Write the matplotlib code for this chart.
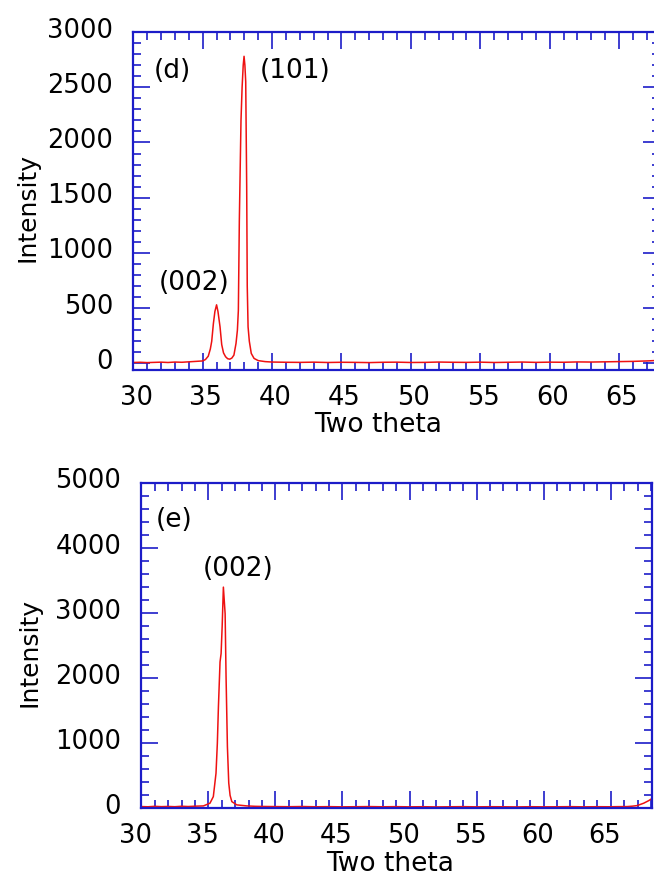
"""
XRD patterns (d) and (e): intensity vs two theta.
"""

import matplotlib
matplotlib.use("Agg")
import matplotlib.pyplot as plt
from matplotlib.ticker import MultipleLocator
from matplotlib.transforms import ScaledTranslation

# ---- panel (d) ----
d_theta = [30.0, 30.5, 31.0, 31.5, 32.0, 32.5, 33.0, 33.5, 34.0, 34.5,
           35.0, 35.2, 35.4, 35.55, 35.65, 35.77, 35.88, 36.0, 36.1, 36.25,
           36.37, 36.5, 36.65, 36.8, 36.95, 37.1, 37.25, 37.4, 37.5, 37.57,
           37.64, 37.7, 37.76, 37.84, 37.92, 37.98, 38.04, 38.1, 38.17, 38.21,
           38.27, 38.36, 38.5, 38.7, 39.0, 39.5, 40.0, 41.0, 42.0, 43.0,
           44.0, 45.0, 46.0, 47.0, 48.0, 49.0, 50.0, 51.0, 52.0, 53.0,
           54.0, 55.0, 56.0, 57.0, 58.0, 59.0, 60.0, 61.0, 62.0, 63.0,
           64.0, 65.0, 66.0, 66.5, 67.0, 67.5, 67.95]
d_counts = [8, 10, 7, 9, 11, 8, 12, 10, 14, 18,
            22, 35, 65, 130, 200, 360, 470, 530, 470, 330,
            170, 95, 60, 42, 38, 48, 75, 180, 300, 480,
            1290, 1750, 2200, 2500, 2700, 2780, 2700, 2550, 1600, 700,
            330, 200, 90, 45, 25, 16, 12, 10, 9, 11,
            8, 10, 9, 7, 10, 11, 8, 9, 12, 10,
            9, 11, 8, 10, 12, 9, 11, 10, 13, 12,
            14, 16, 18, 20, 22, 25, 28]

# ---- panel (e) ----
e_theta = [30.0, 30.5, 31.0, 31.5, 32.0, 32.5, 33.0, 33.5, 34.0, 34.63,
           35.12, 35.37, 35.57, 35.67, 35.75, 35.87, 35.95, 36.03, 36.12, 36.25,
           36.32, 36.42, 36.52, 36.62, 36.75, 37.12, 37.87, 38.5, 39.0, 40.0,
           41.0, 42.0, 43.0, 44.0, 45.0, 46.0, 47.0, 48.0, 49.0, 50.0,
           51.0, 52.0, 53.0, 54.0, 55.0, 56.0, 57.0, 58.0, 59.0, 60.0,
           61.0, 62.0, 63.0, 64.0, 65.0, 65.5, 66.22, 66.6, 66.97, 67.46,
           67.84, 68.1]
e_counts = [28, 25, 32, 27, 30, 26, 33, 29, 34, 38,
            80, 181, 540, 1000, 1560, 2250, 2380, 2800, 3400, 2990,
            2020, 950, 390, 200, 104, 54, 38, 32, 30, 28,
            26, 29, 25, 27, 24, 26, 28, 25, 27, 24,
            26, 23, 25, 27, 24, 26, 25, 23, 26, 24,
            25, 27, 24, 26, 25, 27, 28, 34, 43, 80,
            120, 156]

W, H = 654, 877
blue = "#1c1cc8"
red = "#ee1111"

plt.rcParams["font.family"] = "DejaVu Sans"

fig = plt.figure(figsize=(W / 100, H / 100), dpi=100)


def box(left, top, right, bottom):
    # pixel box -> figure fraction rect
    return [left / W, 1 - bottom / H, (right - left) / W, (bottom - top) / H]


def style_axes(ax, ymajor, yminor, xshift, yshift):
    for sp in ax.spines.values():
        sp.set_color(blue)
        sp.set_linewidth(1.6)
    ax.xaxis.set_major_locator(MultipleLocator(5))
    ax.xaxis.set_minor_locator(MultipleLocator(1))
    ax.yaxis.set_major_locator(MultipleLocator(ymajor))
    ax.yaxis.set_minor_locator(MultipleLocator(yminor))
    ax.tick_params(which="both", direction="in", top=True, right=True,
                   color=blue, width=1.2, labelsize=18.5)
    ax.tick_params(which="major", length=12)
    ax.tick_params(which="minor", length=6)
    ax.tick_params(axis="y", pad=14.5)
    ax.tick_params(axis="x", pad=10.5)
    for lab in ax.get_xticklabels():
        lab.set_transform(lab.get_transform() +
                          ScaledTranslation(xshift / 100, 0, fig.dpi_scale_trans))
    for lab in ax.get_yticklabels():
        lab.set_transform(lab.get_transform() +
                          ScaledTranslation(0, yshift / 100, fig.dpi_scale_trans))


# top panel (right edge runs slightly past the image, as in the source)
ax1 = fig.add_axes(box(133.3, 32, 660, 370))
ax1.plot(d_theta, d_counts, color=red, linewidth=1.1)
ax1.set_xlim(30, 67.95)
ax1.set_ylim(-60, 3000)
style_axes(ax1, 500, 100, 3, 4.5)
ax1.set_xlabel("Two theta", fontsize=19)
ax1.xaxis.set_label_coords(0.465, -0.1257)
ax1.set_ylabel("Intensity", fontsize=18, va="center", ha="center")
ax1.yaxis.set_label_coords(-0.2009, 0.4808)
ax1.text(32.79, 2650, "(d)", fontsize=19, ha="center", va="center")
ax1.text(41.65, 2650, "(101)", fontsize=19, ha="center", va="center")
ax1.text(34.37, 725, "(002)", fontsize=19, ha="center", va="center")

# bottom panel
ax2 = fig.add_axes(box(141.3, 483, 652.3, 808.4))
ax2.plot(e_theta, e_counts, color=red, linewidth=1.1)
ax2.set_xlim(30, 68.1)
ax2.set_ylim(0, 5000)
style_axes(ax2, 1000, 200, -6, 4.5)
ax2.set_xlabel("Two theta", fontsize=19)
ax2.xaxis.set_label_coords(0.487, -0.131)
ax2.set_ylabel("Intensity", fontsize=18, va="center", ha="center")
ax2.yaxis.set_label_coords(-0.2188, 0.479)
ax2.text(32.44, 4425, "(e)", fontsize=19, ha="center", va="center")
ax2.text(37.22, 3673, "(002)", fontsize=19, ha="center", va="center")

fig.savefig("out.png", dpi=100)
